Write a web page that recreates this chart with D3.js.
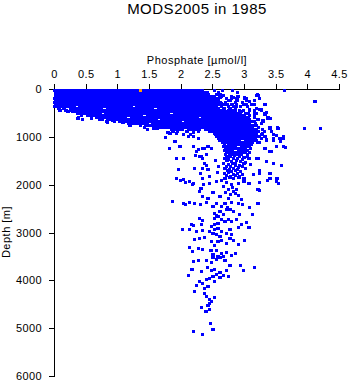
<!DOCTYPE html>
<html>
<head>
<meta charset="utf-8">
<script src="https://cdn.jsdelivr.net/npm/d3@7"></script>
<style>
  body { margin: 0; background: #fff; }
  svg { display: block; font-family: "Liberation Sans", Arial, Helvetica, sans-serif; }
</style>
</head>
<body>
<svg id="chart" width="350" height="384"></svg>
<script>
const titleText = "MODS2005 in 1985";
const xTitle = "Phosphate [\u00b5mol/l]";
const yTitle = "Depth [m]";
const phosphateTicks = [0, 0.5, 1, 1.5, 2, 2.5, 3, 3.5, 4, 4.5];
const depthTicks = [0, 1000, 2000, 3000, 4000, 5000, 6000];

// Upper water column: sampled depth levels [m] ...
const levelDepth = [40, 80, 120, 160, 200, 240, 280, 320, 360, 400, 440, 480, 520, 560, 600, 640, 680, 720, 760, 800, 840, 880, 920, 960, 1000, 1040, 1080, 1120, 1160, 1200, 1240, 1280, 1320, 1360];
// ... and the phosphate values [µmol/l] observed at each of them
const levelPhosphate = [
  [0.01,0.05,0.1,0.14,0.19,0.23,0.28,0.32,0.37,0.41,0.46,0.5,0.55,0.59,0.64,0.68,0.73,0.77,0.82,0.86,0.91,0.95,1,1.04,1.09,1.13,1.18,1.22,1.27,1.31,1.36,1.4,1.45,1.49,1.54,1.58,1.63,1.67,1.72,1.76,1.81,1.85,1.9,1.94,1.99,2.03,2.08,2.12,2.17,2.21,2.26,2.3,2.35,2.53,2.66,2.82],
  [0.03,0.08,0.12,0.17,0.21,0.26,0.3,0.35,0.39,0.44,0.48,0.53,0.57,0.62,0.66,0.71,0.75,0.8,0.84,0.89,0.93,0.98,1.02,1.07,1.11,1.16,1.2,1.25,1.29,1.34,1.38,1.43,1.47,1.52,1.56,1.61,1.65,1.7,1.74,1.79,1.83,1.88,1.92,1.97,2.01,2.06,2.1,2.15,2.19,2.24,2.28,2.33,2.37,2.42,2.6,2.9],
  [0.02,0.06,0.1,0.15,0.19,0.24,0.28,0.33,0.37,0.42,0.46,0.51,0.55,0.6,0.64,0.69,0.73,0.78,0.82,0.87,0.91,0.96,1,1.05,1.09,1.14,1.18,1.23,1.27,1.32,1.36,1.41,1.45,1.5,1.54,1.59,1.63,1.68,1.72,1.77,1.81,1.86,1.9,1.95,1.99,2.04,2.08,2.13,2.17,2.22,2.26,2.31,2.35,2.4,2.44,2.57,2.62,3.21],
  [0.03,0.08,0.12,0.17,0.21,0.26,0.3,0.35,0.39,0.44,0.48,0.53,0.57,0.62,0.66,0.71,0.75,0.8,0.84,0.89,0.93,0.98,1.02,1.07,1.11,1.16,1.2,1.25,1.29,1.34,1.38,1.43,1.47,1.52,1.56,1.61,1.65,1.7,1.74,1.79,1.83,1.88,1.92,1.97,2.01,2.06,2.1,2.15,2.19,2.24,2.28,2.33,2.37,2.42,2.46,2.51,2.64,2.8,2.9],
  [0.01,0.05,0.1,0.14,0.19,0.23,0.28,0.32,0.37,0.41,0.46,0.5,0.55,0.59,0.64,0.68,0.73,0.77,0.82,0.86,0.91,0.95,1,1.04,1.09,1.13,1.18,1.22,1.27,1.31,1.36,1.4,1.45,1.49,1.54,1.58,1.63,1.67,1.72,1.76,1.81,1.85,1.9,1.94,1.99,2.03,2.08,2.12,2.17,2.21,2.26,2.3,2.35,2.39,2.44,2.48,2.53,2.57,2.72,2.8,3.01],
  [0.03,0.08,0.12,0.17,0.21,0.26,0.3,0.35,0.39,0.44,0.48,0.53,0.57,0.62,0.66,0.71,0.75,0.8,0.84,0.89,0.93,0.98,1.02,1.07,1.11,1.16,1.2,1.25,1.29,1.34,1.38,1.43,1.47,1.52,1.56,1.61,1.65,1.7,1.74,1.79,1.83,1.88,1.92,1.97,2.01,2.06,2.1,2.15,2.19,2.24,2.28,2.33,2.37,2.42,2.46,2.51,2.55,2.6,2.78,2.89,3.04,3.17],
  [0.01,0.05,0.1,0.14,0.19,0.23,0.28,0.32,0.37,0.41,0.46,0.5,0.55,0.59,0.64,0.68,0.73,0.77,0.82,0.86,0.91,0.95,1,1.04,1.09,1.13,1.18,1.22,1.27,1.31,1.36,1.4,1.45,1.49,1.54,1.58,1.63,1.67,1.72,1.76,1.81,1.85,1.9,1.94,1.99,2.03,2.08,2.12,2.17,2.21,2.26,2.3,2.35,2.39,2.44,2.48,2.53,2.57,2.62,2.71,2.86,2.98],
  [0.03,0.08,0.12,0.17,0.21,0.26,0.3,0.35,0.39,0.44,0.48,0.53,0.57,0.62,0.66,0.71,0.75,0.8,0.84,0.89,0.93,0.98,1.02,1.07,1.11,1.16,1.2,1.25,1.29,1.34,1.38,1.43,1.47,1.52,1.56,1.61,1.65,1.7,1.74,1.79,1.83,1.88,1.92,1.97,2.01,2.06,2.1,2.15,2.19,2.24,2.28,2.33,2.37,2.42,2.46,2.51,2.55,2.6,2.67,2.73,2.81,2.88,2.99,3.12],
  [0.01,0.05,0.1,0.14,0.19,0.23,0.28,0.32,0.41,0.46,0.5,0.55,0.59,0.64,0.68,0.73,0.77,0.82,0.86,0.91,0.95,1,1.04,1.09,1.13,1.18,1.22,1.31,1.36,1.4,1.45,1.49,1.54,1.58,1.63,1.67,1.72,1.76,1.81,1.85,1.9,1.94,1.99,2.03,2.08,2.12,2.17,2.21,2.26,2.3,2.35,2.39,2.44,2.48,2.53,2.57,2.65,2.75,2.84,2.95,3.05],
  [0.08,0.17,0.26,0.3,0.35,0.39,0.44,0.48,0.53,0.57,0.62,0.66,0.71,0.75,0.84,0.89,0.93,0.98,1.02,1.07,1.11,1.16,1.2,1.25,1.29,1.34,1.38,1.43,1.47,1.52,1.56,1.65,1.7,1.74,1.79,1.83,1.88,1.92,1.97,2.01,2.06,2.1,2.15,2.19,2.24,2.28,2.33,2.37,2.42,2.46,2.51,2.55,2.6,2.69,2.78,2.87,3.2],
  [0.1,0.19,0.28,0.32,0.37,0.41,0.46,0.5,0.59,0.64,0.68,0.73,0.77,0.82,0.86,0.91,0.95,1,1.04,1.09,1.13,1.18,1.22,1.27,1.31,1.36,1.4,1.45,1.49,1.54,1.58,1.63,1.67,1.72,1.76,1.81,1.85,1.9,1.94,1.99,2.03,2.08,2.17,2.21,2.26,2.3,2.35,2.39,2.44,2.48,2.53,2.57,2.62,2.66,2.75,2.84,2.93,3.09,3.17,3.28],
  [0.21,0.3,0.35,0.39,0.44,0.48,0.53,0.57,0.62,0.66,0.71,0.75,0.8,0.84,0.89,0.93,0.98,1.02,1.07,1.11,1.16,1.25,1.29,1.34,1.38,1.43,1.47,1.52,1.56,1.61,1.65,1.7,1.74,1.79,1.83,1.88,1.92,1.97,2.01,2.06,2.1,2.15,2.19,2.24,2.28,2.33,2.37,2.42,2.46,2.51,2.55,2.6,2.64,2.69,2.73,2.78,2.87,2.96,3.17],
  [0.37,0.41,0.46,0.5,0.55,0.59,0.64,0.68,0.73,0.82,0.86,0.91,0.95,1,1.04,1.09,1.13,1.18,1.22,1.27,1.31,1.36,1.4,1.45,1.49,1.54,1.58,1.63,1.67,1.72,1.76,1.81,1.9,1.94,1.99,2.03,2.08,2.12,2.17,2.21,2.26,2.3,2.35,2.39,2.44,2.48,2.53,2.57,2.62,2.66,2.71,2.75,2.8,2.84,2.89,2.93,3.02,3.2,3.33],
  [0.44,0.53,0.57,0.62,0.66,0.71,0.75,0.8,0.84,0.89,0.93,0.98,1.02,1.07,1.11,1.16,1.2,1.25,1.29,1.34,1.38,1.47,1.52,1.56,1.61,1.65,1.7,1.74,1.79,1.83,1.88,1.92,1.97,2.01,2.06,2.1,2.15,2.19,2.24,2.28,2.33,2.37,2.42,2.46,2.51,2.55,2.6,2.64,2.69,2.73,2.78,2.82,2.87,2.91,2.96,3,3.09],
  [0.59,0.68,0.73,0.77,0.82,0.86,0.91,0.95,1,1.04,1.09,1.13,1.22,1.27,1.31,1.36,1.4,1.45,1.49,1.54,1.58,1.63,1.67,1.72,1.76,1.81,1.85,1.9,1.94,1.99,2.03,2.08,2.12,2.17,2.21,2.26,2.35,2.39,2.44,2.48,2.53,2.57,2.62,2.66,2.71,2.75,2.8,2.84,2.89,2.93,2.98,3.02,3.07,3.17,3.38],
  [0.84,0.89,0.93,0.98,1.02,1.07,1.11,1.16,1.2,1.25,1.29,1.34,1.38,1.43,1.47,1.52,1.56,1.61,1.7,1.74,1.79,1.83,1.88,1.92,1.97,2.01,2.06,2.1,2.15,2.19,2.24,2.28,2.33,2.37,2.42,2.46,2.51,2.55,2.6,2.64,2.69,2.73,2.78,2.82,2.87,2.91,2.96,3,3.05,3.09,3.22],
  [0.95,1.04,1.09,1.13,1.18,1.22,1.27,1.31,1.36,1.4,1.45,1.49,1.54,1.58,1.63,1.67,1.72,1.76,1.81,1.85,1.9,1.94,1.99,2.08,2.12,2.17,2.21,2.26,2.3,2.35,2.39,2.44,2.48,2.53,2.57,2.62,2.66,2.71,2.75,2.8,2.84,2.89,2.93,2.98,3.02,3.07,3.11,3.16,3.3],
  [1.2,1.25,1.29,1.34,1.38,1.43,1.47,1.56,1.61,1.65,1.7,1.74,1.79,1.83,1.88,1.92,1.97,2.01,2.06,2.1,2.15,2.19,2.24,2.28,2.33,2.37,2.42,2.46,2.51,2.55,2.6,2.64,2.69,2.73,2.78,2.82,2.87,2.91,2.96,3,3.05,3.09,3.18,3.27],
  [1.36,1.45,1.49,1.54,1.58,1.63,1.67,1.72,1.76,1.81,1.85,1.9,1.94,1.99,2.03,2.08,2.12,2.17,2.21,2.26,2.3,2.35,2.39,2.44,2.48,2.53,2.57,2.62,2.66,2.71,2.75,2.8,2.84,2.89,2.93,2.98,3.02,3.07,3.11,3.16,3.2],
  [1.61,1.65,1.7,1.74,1.79,1.83,1.88,1.92,1.97,2.01,2.06,2.1,2.15,2.19,2.24,2.28,2.33,2.37,2.42,2.46,2.51,2.55,2.6,2.64,2.69,2.73,2.78,2.82,2.87,2.91,2.96,3,3.05,3.09,3.14,3.23,3.41,3.53],
  [1.85,1.9,1.94,1.99,2.03,2.12,2.17,2.21,2.26,2.3,2.39,2.44,2.48,2.53,2.57,2.62,2.66,2.71,2.75,2.8,2.84,2.89,2.93,2.98,3.02,3.07,3.11,3.16,3.2,3.29],
  [1.88,2.1,2.28,2.46,2.51,2.55,2.6,2.64,2.69,2.73,2.78,2.82,2.87,2.91,2.96,3,3.05,3.09,3.14,3.18,3.23,3.32,3.43],
  [1.94,2.53,2.57,2.62,2.66,2.71,2.75,2.8,2.84,2.89,2.93,2.98,3.02,3.07,3.11,3.16,3.2,3.29],
  [2.15,2.55,2.6,2.64,2.69,2.73,2.78,2.82,2.87,2.91,2.96,3,3.05,3.09,3.14,3.18,3.27],
  [2.57,2.62,2.66,2.71,2.75,2.8,2.84,2.89,2.93,2.98,3.02,3.07,3.11,3.16,3.2,3.25,3.33,3.62],
  [2.6,2.64,2.69,2.73,2.78,2.82,2.87,2.91,2.96,3,3.05,3.09,3.14,3.18,3.27,3.46,3.56],
  [2.62,2.66,2.71,2.75,2.8,2.84,2.89,2.93,3.02,3.07,3.11,3.16,3.2,3.35],
  [2.66,2.69,2.73,2.78,2.82,2.87,2.91,2.96,3,3.05,3.09,3.14,3.24],
  [2.69,2.75,2.8,2.84,2.89,2.93,2.98,3.02,3.07,3.11],
  [2.67,2.73,2.78,2.82,2.87,2.96,3,3.05,3.09],
  [2.71,2.75,2.8,2.84,2.89,2.93,2.98,3.02,3.1],
  [2.69,2.73,2.78,2.82,2.91,2.96,3,3.05],
  [2.73,2.77,2.8,2.84,2.89,2.93,2.98,3.02,3.09],
  [2.71,2.78,2.82,2.87,2.91,2.96,3.05]
];

// Isolated samples: [phosphate µmol/l, depth m]
const isolatedSamples = [
  [3.64,40],[2.57,119],[2.62,175],[2.89,209],[3.04,209],[3.21,134],[4.12,262],[2.8,188],[2.91,153],[3.01,188],[3.22,140],
  [2.54,160],[2.67,146],[2.75,230],[2.83,181],[2.91,160],[3.02,209],[3.09,264],[3.2,146],[3.25,209],[2.65,299],
  [2.73,334],[2.81,320],[2.88,369],[2.99,334],[3.12,320],[3.2,404],[3.28,439],[3.36,487],[2.67,439],[2.78,474],
  [2.94,487],[3.07,508],[3.17,543],[3.41,613],[3.54,822],[3.46,961],[3.57,1031],[3.65,1226],
  [3.04,328],[3.17,314],[3.33,328],[3.25,432],[3.33,523],[3.2,418],[2.99,446],[3.09,433],[3.38,614],[3.3,663],
  [3.41,823],[3.53,816],[3.96,816],[4.21,816],[3.51,977],[3.62,1011],[3.35,1046],[3.46,1081],[3.22,1116],
  [0.04,363],[0.09,440],[0.15,405],[0.22,475],[0.1,453],[0.43,481],[0.57,397],[0.39,586],[0.45,628],[0.38,607],
  [0.59,607],[0.72,628],[0.77,641],[0.83,684],[0.93,649],[0.84,690],[1.09,698],[1.17,725],[1.2,767],[1.21,767],
  [1.29,676],[1.33,712],[1.43,802],[1.46,733],[1.5,767],[1.47,837],[1.58,823],[1.64,830],[1.7,781],[1.8,907],
  [1.95,893],[2.2,900],[1.76,1004],[1.82,1234],[2.2,996],[2.28,1031],[2.38,1240],[2.23,1380],[2.33,1415],
  [1.83,920],[1.93,920],[2.04,955],[2.12,990],[1.91,1094],[1.99,1199],[2.2,1199],[2.28,1269],[2.35,1234],[2.43,1199],
  [2.49,1234],[1.93,1443],[2.04,1457],[2.25,1304],[2.3,1408],[2.35,1443],[2.38,1548],[2.41,1373],[1.96,1687],
  [2.22,1652],[2.35,1652],[2.43,1673],[1.93,1861],[2.04,1896],[2.14,1931],[2.2,1966],[2.46,1826],[2.35,1861],
  [2.41,1589],[2.31,1763],[2.46,1833],[2.2,1972],[2.36,1993],
  [2.55,1500],[2.6,1620],[3.2,1450],[3.25,1700],[3.15,1780],[2.58,1750],[3.36,1519],[3.23,1449],[3.44,1310],
  [3.33,1240],[3.25,1763],[3.59,1589],[3.41,1763],[3.52,1868],
  [3.62,1025],[3.62,1199],[3.57,1094],[3.46,1025],[3.51,1199],[3.41,1304],[3.46,1548],[3.41,1861],
  [3.51,1931],
  [2.72,1405],[2.78,1418],[2.85,1396],[2.93,1412],[3.0,1430],[3.05,1402],
  [2.7,1452],[2.76,1470],[2.84,1445],[2.9,1463],[2.97,1480],[3.08,1455],
  [2.73,1505],[2.8,1520],[2.88,1498],[2.95,1512],[3.02,1530],
  [2.68,1552],[2.75,1575],[2.82,1548],[2.87,1566],[2.93,1590],[3.0,1558],[3.1,1572],
  [2.72,1610],[2.79,1628],[2.86,1603],[2.91,1640],[2.98,1615],
  [2.7,1662],[2.77,1680],[2.84,1655],[2.9,1692],[3.03,1668],
  [2.74,1712],[2.8,1735],[2.87,1705],[2.95,1724],
  [2.69,1768],[2.76,1752],[2.83,1781],[2.9,1760],[2.98,1790],
  [2.72,1810],[2.79,1832],[2.86,1805],[2.93,1825],
  [2.7,1862],[2.78,1848],[2.84,1875],[2.92,1858],[3.0,1880],
  [2.0,1918],[2.07,1953],[2.14,1932],[2.19,2002],[2.32,2072],[2.45,1981],[2.57,1932],[2.64,1918],[2.72,1953],
  [2.8,2002],[2.91,1967],[3.0,1932],[3.08,1981],[3.25,1953],[3.37,1918],[3.54,1967],
  [2.68,2037],[2.75,2093],[2.82,2051],[2.88,2107],[2.71,2163],[2.79,2212],[2.84,2142],[2.91,2233],[2.75,2282],
  [2.3,2142],[2.51,2163],[2.62,2247],[2.35,2247],[2.43,2282],[2.87,2191],[2.96,2303],[3.22,2093],[3.25,2121],
  [1.87,2352],[2.04,2401],[2.08,2422],[2.14,2373],[2.22,2387],[2.31,2422],[2.41,2373],[2.51,2457],[2.57,2401],
  [2.64,2457],[2.7,2387],[2.8,2373],[2.91,2387],[2.98,2422],[3.09,2471],[3.22,2401],[2.74,2471],[2.78,2527],
  [2.54,2597],[2.62,2562],[2.72,2527],[2.83,2562],[2.93,2632],[3.14,2632],[2.57,2653],[2.67,2618],
  [2.3,2702],[2.35,2751],[2.54,2702],[2.59,2667],[2.64,2737],[2.7,2772],[2.75,2723],[2.8,2772],[2.88,2737],
  [2.96,2842],[3.04,2793],[2.17,2828],[2.2,2863],[2.33,2828],[2.49,2877],[2.54,2842],[2.59,2807],
  [2.54,2947],[2.59,2912],[2.64,2982],[2.72,3017],[2.78,2947],[2.8,3052],[2.91,2891],[3.08,2898],[2.03,2933],
  [2.14,2947],[2.25,2982],[2.35,2961],[2.46,2982],[2.51,3017],[2.57,3052],[2.62,3087],
  [2.78,3122],[2.83,3157],[3.01,3171],[2.22,3143],[2.3,3122],[2.38,3101],[2.49,3192],[2.54,3262],[2.72,3227],
  [2.91,3248],[2.59,3192],[2.64,3157],
  [2.14,3311],[2.19,3402],[2.28,3332],[2.35,3353],[2.48,3367],[2.57,3367],[2.64,3437],[2.72,3423],[2.8,3472],
  [2.87,3437],[2.51,3451],[2.59,3493],
  [2.2,3612],[2.28,3591],[2.41,3591],[2.49,3633],[2.51,3521],[2.57,3563],[2.62,3521],[2.67,3493],[2.7,3577],
  [2.78,3682],[2.95,3682],[3.17,3731],
  [2.18,3773],[2.33,3808],[2.42,3731],[2.49,3787],[2.54,3773],[2.62,3843],[2.67,3892],[2.72,3787],[2.75,3927],
  [2.99,3801],[2.12,3892],[2.57,3871],[2.62,3941],[2.51,3927],[2.46,3962],
  [2.3,4032],[2.35,4067],[2.41,3983],[2.54,4032],[2.25,4102],[2.22,4242],[2.38,4172],[2.43,4137],[2.38,4277],
  [2.41,4347],[2.45,4403],[2.46,4487],[2.49,4452],[2.54,4361],[2.43,4522],[2.33,4571],[2.4,4662],[2.46,4613],
  [2.47,4893],[2.51,5033],[2.2,5068],[2.35,5138]
];

// One highlighted sample near the surface
const flaggedPhosphate = [1.36];
const flaggedDepth = [25];

const svg = d3.select("#chart");
const x = d3.scaleLinear().domain([0, 4.5]).range([54, 339]);
const y = d3.scaleLinear().domain([0, 6000]).range([89, 376]);

const fontFamily = '"Liberation Sans", Arial, Helvetica, sans-serif';

svg.append("text")
  .attr("x", 197).attr("y", 13.5)
  .attr("text-anchor", "middle")
  .attr("font-size", 15).attr("letter-spacing", 0.5)
  .text(titleText);

const xAxisG = svg.append("g")
  .attr("transform", "translate(0,89)")
  .call(d3.axisTop(x).tickValues(phosphateTicks).tickFormat(d => String(d))
    .tickSize(5).tickSizeOuter(0).tickPadding(6));

const yAxisG = svg.append("g")
  .attr("transform", "translate(54,0)")
  .call(d3.axisLeft(y).tickValues(depthTicks).tickFormat(d => String(d))
    .tickSize(5).tickSizeOuter(0).tickPadding(7));

[xAxisG, yAxisG].forEach(g => {
  g.attr("font-family", null).attr("font-size", null);
  g.selectAll("path, line").attr("stroke", "#000").attr("shape-rendering", "crispEdges");
  g.selectAll("text").attr("fill", "#000").attr("font-size", 11).attr("letter-spacing", 0.4)
    .attr("font-family", fontFamily);
});

svg.append("text")
  .attr("x", 197).attr("y", 64.3)
  .attr("text-anchor", "middle")
  .attr("font-size", 11).attr("letter-spacing", 0.5)
  .text(xTitle);

svg.append("text")
  .attr("transform", "translate(10,232) rotate(-90)")
  .attr("text-anchor", "middle")
  .attr("font-size", 11).attr("letter-spacing", 0.5)
  .text(yTitle);

// Flatten the level table into individual samples
const levelSamples = levelDepth.flatMap((d, i) => levelPhosphate[i].map(p => [p, d]));
const allSamples = levelSamples.concat(isolatedSamples);

// Pixel-snapped square markers; the edges are rounded independently so that
// samples lying next to each other always join without a hairline gap.
const halfW = 1.6, halfH = 1.5;
function drawMarkers(data, colour) {
  svg.append("g")
    .attr("fill", colour)
    .attr("shape-rendering", "crispEdges")
    .selectAll("rect")
    .data(data)
    .join("rect")
    .attr("x", s => Math.round(x(s[0]) - halfW))
    .attr("y", s => Math.round(y(s[1]) - halfH))
    .attr("width", s => Math.round(x(s[0]) + halfW) - Math.round(x(s[0]) - halfW))
    .attr("height", s => Math.round(y(s[1]) + halfH) - Math.round(y(s[1]) - halfH));
}

drawMarkers(allSamples, "#0000ff");
drawMarkers(flaggedPhosphate.map((p, i) => [p, flaggedDepth[i]]), "#ffa000");
</script>
</body>
</html>
